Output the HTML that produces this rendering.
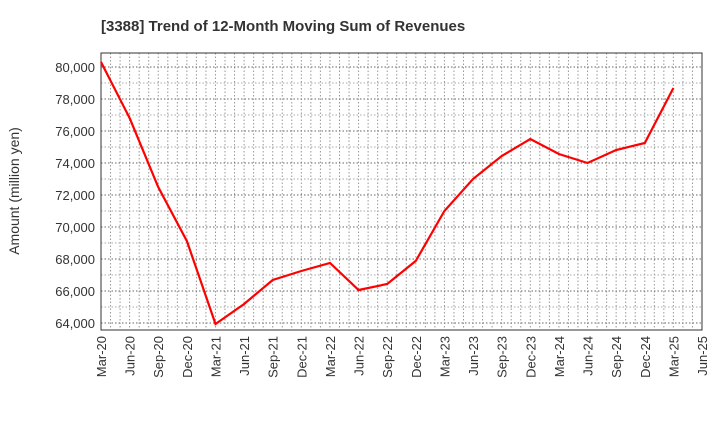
<!DOCTYPE html>
<html><head><meta charset="utf-8"><style>
body{margin:0;background:#fff;}
svg text{font-family:"Liberation Sans",sans-serif;}
</style></head><body>
<svg id="chart" width="720" height="440" xmlns="http://www.w3.org/2000/svg">
<text x="101" y="31" text-anchor="start" font-size="15" font-weight="bold" fill="#333">[3388]  Trend of 12-Month Moving Sum of Revenues</text>
<text transform="translate(19,191) rotate(-90)" text-anchor="middle" font-size="14" fill="#333">Amount (million yen)</text>
<g id="grid"></g><g id="yticks"></g><g id="xticks"></g>
<rect x="101" y="53" width="601" height="277" fill="none" stroke="#333" stroke-width="1"/>
<path id="line" fill="none" stroke="#ff0000" stroke-width="2.2"/>
</svg>
<script>
const categories=["Mar-20","Jun-20","Sep-20","Dec-20","Mar-21","Jun-21","Sep-21","Dec-21","Mar-22","Jun-22","Sep-22","Dec-22","Mar-23","Jun-23","Sep-23","Dec-23","Mar-24","Jun-24","Sep-24","Dec-24","Mar-25","Jun-25"];
const revenues=[80310,76810,72500,69120,63940,65190,66690,67250,67750,66060,66440,67880,71000,73000,74440,75500,74560,74000,74810,75250,78690];
const yTicks=[64000,66000,68000,70000,72000,74000,76000,78000,80000];
const L=101,R=702,T=53,B=330;
const xs=i=>L+(R-L)*i/(categories.length-1);
const ys=v=>323-(v-64000)*0.016;
const NS="http://www.w3.org/2000/svg";
function mk(tag,attrs,parent){const e=document.createElementNS(NS,tag);for(const k in attrs)e.setAttribute(k,attrs[k]);parent.appendChild(e);return e;}
const grid=document.getElementById('grid'),yt=document.getElementById('yticks'),xt=document.getElementById('xticks');
const months=(categories.length-1)*3;
for(let m=1;m<months;m++){const x=L+(R-L)*m/months;
const l=mk('line',{x1:x,x2:x,y1:T,y2:B,stroke:'#999','stroke-dasharray':'1.5,2','stroke-width':1},grid);

}
for(let v=64000;v<=80000;v+=1000){const y=ys(v);
const l=mk('line',{x1:L,x2:R,y1:y,y2:y,stroke:v%2000?'#aaa':'#666','stroke-dasharray':'1.5,2','stroke-width':1},grid);

}
yTicks.forEach(v=>{const t=mk('text',{x:95,y:ys(v)+5,'text-anchor':'end','font-size':13,fill:'#333'},yt);t.textContent=v.toLocaleString('en-US');

});
categories.forEach((c,i)=>{const x=xs(i);const t=mk('text',{transform:`translate(${x+5},${B+6}) rotate(-90)`,'text-anchor':'end','font-size':13,fill:'#333'},xt);t.textContent=c;

});
document.getElementById('line').setAttribute('d',revenues.map((v,i)=>(i?'L':'M')+xs(i).toFixed(1)+','+ys(v).toFixed(1)).join(''));
</script>
</body></html>
